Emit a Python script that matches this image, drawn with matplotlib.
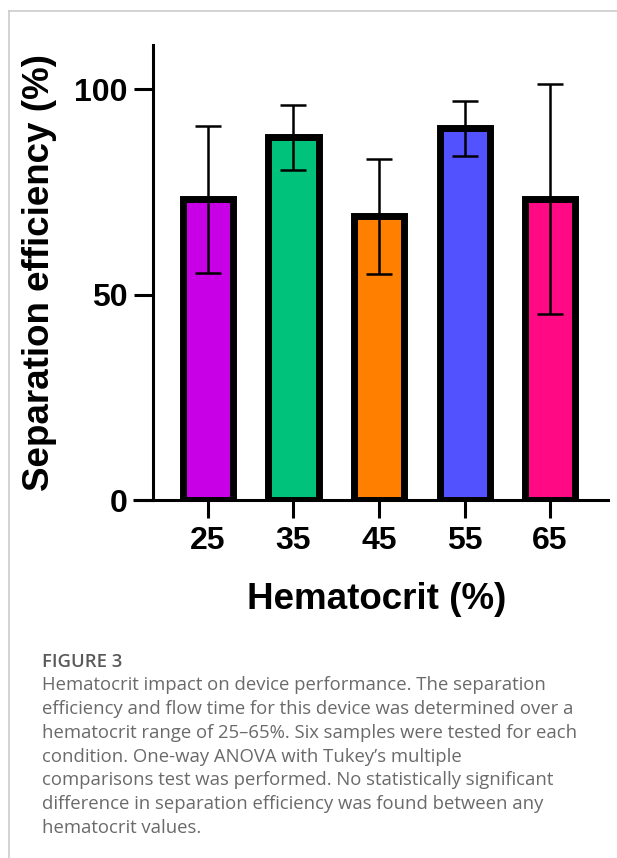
import matplotlib
matplotlib.use("Agg")
import matplotlib.pyplot as plt
from matplotlib.lines import Line2D

# hematocrit groups and separation efficiency (mean, SD)
hematocrit = ["25", "35", "45", "55", "65"]
efficiency = [73.2, 88.3, 69.1, 90.5, 73.2]
sd = [17.9, 8.0, 14.0, 6.7, 28.0]
bar_colors = ["#C800E6", "#00C27A", "#FF8000", "#5252FF", "#FF0A84"]
y_ticks = [0, 50, 100]

caption_title = "FIGURE 3"
caption_lines = [
    "Hematocrit impact on device performance. The separation",
    "efficiency and flow time for this device was determined over a",
    "hematocrit range of 25\u201365%. Six samples were tested for each",
    "condition. One-way ANOVA with Tukey\u2019s multiple",
    "comparisons test was performed. No statistically significant",
    "difference in separation efficiency was found between any",
    "hematocrit values.",
]

W, H = 617, 858


def fx(px):
    return px / W


def fy(py):
    return 1 - py / H


def main():
    plt.rcParams['font.family'] = ['Liberation Sans', 'DejaVu Sans']
    fig = plt.figure(figsize=(W / 100, H / 100), dpi=100)
    ax = fig.add_axes([fx(153), fy(500), fx(608) - fx(153), fy(45) - fy(500)])

    x = list(range(len(hematocrit)))
    ax.bar(x, efficiency, width=0.585, color=bar_colors,
           edgecolor="black", linewidth=5, zorder=2)
    ax.errorbar(x, efficiency, yerr=sd, fmt="none", ecolor="black",
                elinewidth=1.8, capsize=9.5, capthick=1.8, zorder=3)

    ax.set_xlim(-0.643, 4.678)
    ax.set_ylim(0, 110.8)
    ax.set_xticks(x)
    ax.set_xticklabels(hematocrit)
    ax.set_yticks(y_ticks)

    for side in ["top", "right"]:
        ax.spines[side].set_visible(False)
    for side in ["left", "bottom"]:
        ax.spines[side].set_linewidth(2.2)
    # x axis line runs out to the end of the y ticks
    ax.plot([-0.044, 0], [0, 0], transform=ax.transAxes, color="black",
            linewidth=2.2, clip_on=False, solid_capstyle="butt")

    ax.tick_params(axis="y", length=14, width=2.2, pad=4, labelsize=23)
    ax.tick_params(axis="x", length=13, width=2.2, pad=6, labelsize=23)
    for lab in ax.get_xticklabels() + ax.get_yticklabels():
        lab.set_fontweight("bold")

    fig.text(fx(40), fy(272.5), "Separation efficiency (%)", rotation=90,
             ha="center", va="center", fontsize=26.5, fontweight="bold")
    fig.text(fx(377), fy(609), "Hematocrit (%)", ha="center",
             va="baseline", fontsize=26.5, fontweight="bold")

    # caption
    fig.text(fx(42), fy(667), caption_title, ha="left", va="baseline",
             fontsize=13.3, fontweight="semibold", color="#5a5a5a",
             family=["Open Sans", "DejaVu Sans"])
    for i, line in enumerate(caption_lines):
        fig.text(fx(42), fy(690.5 + i * 23.7), line, ha="left",
                 va="baseline", fontsize=13.3, color="#6a6a6a",
                 family=["Open Sans", "DejaVu Sans"])

    # light frame on top and left
    fig.add_artist(Line2D([fx(9), 1], [fy(11), fy(11)], color="#cccccc",
                          linewidth=1.2))
    fig.add_artist(Line2D([fx(9), fx(9)], [fy(11), 0], color="#cccccc",
                          linewidth=1.2))

    fig.savefig("out.png", dpi=100)


if __name__ == "__main__":
    main()
